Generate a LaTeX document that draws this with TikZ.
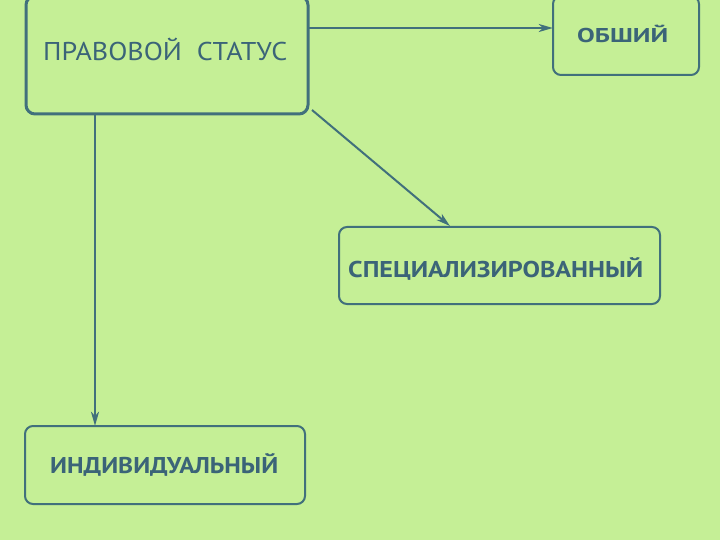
\documentclass[tikz,border=0pt]{standalone}
\usepackage{fontspec}
\setmainfont{PT Sans}
\usepackage{graphicx}
\usetikzlibrary{arrows.meta}
\definecolor{bg}{HTML}{C5EF96}
\definecolor{ink}{HTML}{41707C}
\definecolor{txt}{HTML}{3B6478}
\newcommand{\fitto}[3]{\resizebox{#1}{#2}{\raisebox{0pt}[\fontcharht\font`\П][0pt]{#3}}}
\begin{document}
\begin{tikzpicture}[x=1pt,y=-1pt,
  boxstyle/.style={draw=ink,line width=2pt,rounded corners=8pt},
  mainbox/.style={draw=ink,line width=3pt,rounded corners=9pt},
  label/.style={text=txt,inner sep=0pt,anchor=base west},
  conn/.style={draw=ink,line width=2pt,-{Stealth[length=14pt,width=8pt,inset=4pt]}}]
\fill[bg] (0,0) rectangle (720,540);
\useasboundingbox (0,0) rectangle (720,540);
% boxes
\draw[mainbox] (26,-4) rectangle (308,114);
\coordinate (mainE) at (308,28);
\coordinate (mainS) at (95,114);
\coordinate (mainSE) at (312,110);
\node[draw=none,inner sep=0pt,minimum width=282pt,minimum height=118pt] (main) at (167,55) {};
\draw[boxstyle] (553,-4) rectangle (699,75);
\node[inner sep=0pt,minimum width=146pt,minimum height=79pt] (obs) at (626,35.5) {};
\draw[boxstyle] (339,227) rectangle (660,304);
\node[inner sep=0pt,minimum width=321pt,minimum height=77pt] (spec) at (499.5,265.5) {};
\draw[boxstyle] (25,426) rectangle (305,504);
\node[inner sep=0pt,minimum width=280pt,minimum height=78pt] (ind) at (165,465) {};
% labels
\node[label] (t1) at (43,61) {\fitto{244pt}{18pt}{ПРАВОВОЙ\ \ СТАТУС}};
\node[label] (t2) at (577,43) {\bfseries\fitto{91pt}{14pt}{ОБШИЙ}};
\node[label] (t3) at (348,277) {\bfseries\fitto{295pt}{16pt}{СПЕЦИАЛИЗИРОВАННЫЙ}};
\node[label] (t4) at (50,473) {\bfseries\fitto{228pt}{16pt}{ИНДИВИДУАЛЬНЫЙ}};
% connectors
\draw[conn] (mainE) -- (obs.west |- mainE);
\draw[conn] (mainS) -- (ind.north -| mainS);
\draw[conn] (mainSE) -- (450,226);
\end{tikzpicture}
\end{document}
